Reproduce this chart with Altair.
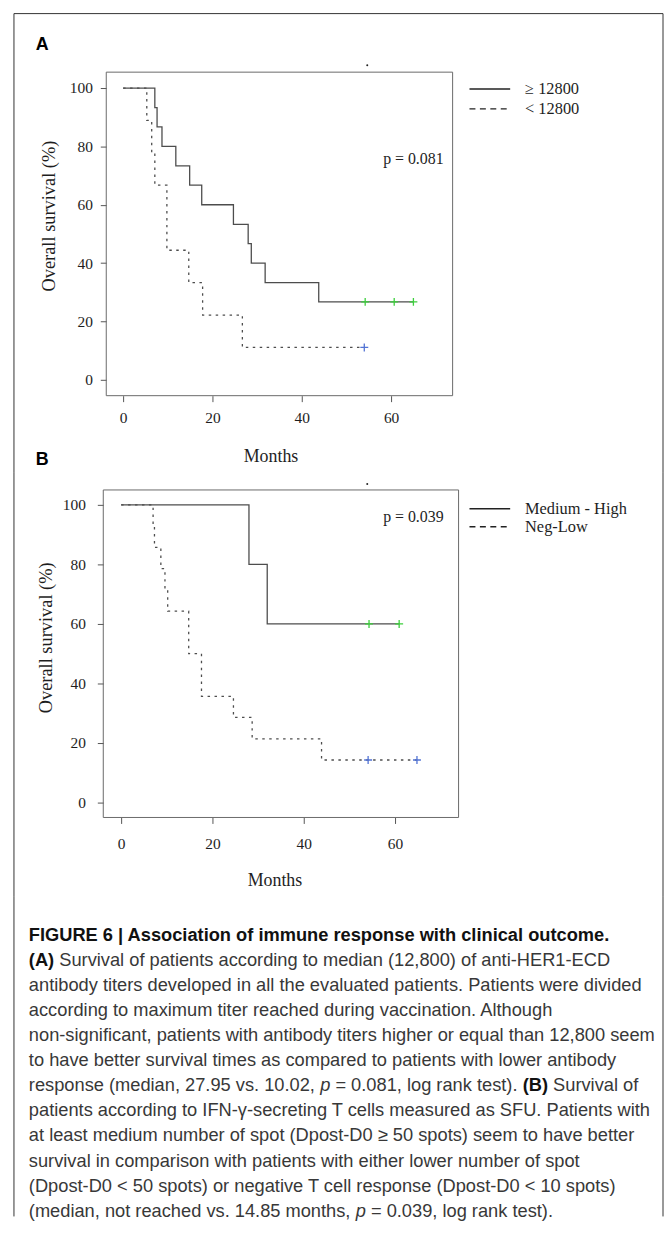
import altair as alt
import pandas as pd

SERIF = "Liberation Serif"
SANS = "Liberation Sans"
INK = "#1e1e1e"
CURVE = "#4d4d4d"
FRAME = "#6a6a6a"
BORDER = "#333333"
GREEN = "#3ccf3c"
BLUE = "#5273d4"

# ---------------- data: panel A (antibody titers) ----------------
a_hi_t = [0, 7.1, 7.6, 8.7, 11.8, 14.9, 17.6, 24.7, 28.0, 28.7, 31.8, 43.8, 65.0]
a_hi_s = [100, 93.3, 86.7, 80.0, 73.3, 66.7, 60.0, 53.3, 46.7, 40.0, 33.3, 26.7, 26.7]
a_hi_ct = [54.2, 60.7, 65.0]
a_hi_cs = [26.7, 26.7, 26.7]
a_lo_t = [0, 5.3, 6.4, 7.1, 9.8, 14.7, 17.8, 26.7, 54.0]
a_lo_s = [100, 88.9, 77.8, 66.7, 44.4, 33.3, 22.2, 11.1, 11.1]
a_lo_ct = [54.0]
a_lo_cs = [11.1]

# ---------------- data: panel B (IFN-gamma T cells) ----------------
b_hi_t = [0, 28.0, 32.0, 61.0]
b_hi_s = [100, 80.0, 60.0, 60.0]
b_hi_ct = [54.3, 60.9]
b_hi_cs = [60.0, 60.0]
b_lo_t = [0, 7.0, 7.3, 8.7, 9.6, 10.2, 14.8, 17.6, 24.6, 28.7, 43.9, 64.8]
b_lo_s = [100, 92.9, 85.7, 78.6, 71.4, 64.3, 50.0, 35.7, 28.6, 21.4, 14.3, 14.3]
b_lo_ct = [54.1, 64.8]
b_lo_cs = [14.3, 14.3]

x_ticks = [0, 20, 40, 60]
y_ticks = [0, 20, 40, 60, 80, 100]

legend_a = ["\u2265 12800", "< 12800"]
legend_b = ["Medium - High", "Neg-Low"]
p_a = "p = 0.081"
p_b = "p = 0.039"

caption_runs = [
    [("FIGURE 6 | Association of immune response with clinical outcome.", "b")],
    [("(A)", "b"), (" Survival of patients according to median (12,800) of anti-HER1-ECD", "n")],
    [("antibody titers developed in all the evaluated patients. Patients were divided", "n")],
    [("according to maximum titer reached during vaccination. Although", "n")],
    [("non-significant, patients with antibody titers higher or equal than 12,800 seem", "n")],
    [("to have better survival times as compared to patients with lower antibody", "n")],
    [("response (median, 27.95 vs. 10.02, ", "n"), ("p", "i"), (" = 0.081, log rank test). ", "n"),
     ("(B)", "b"), (" Survival of", "n")],
    [("patients according to IFN-\u03b3-secreting T cells measured as SFU. Patients with", "n")],
    [("at least medium number of spot (Dpost-D0 \u2265 50 spots) seem to have better", "n")],
    [("survival in comparison with patients with either lower number of spot", "n")],
    [("(Dpost-D0 < 50 spots) or negative T cell response (Dpost-D0 < 10 spots)", "n")],
    [("(median, not reached vs. 14.85 months, ", "n"), ("p", "i"), (" = 0.039, log rank test).", "n")],
]

# ---------------- page layout (pixels on the page) ----------------
PAGE_L, PAGE_R = 13, 667          # outer border
W = PAGE_R - PAGE_L
BLOCK_A = (8, 470)
BLOCK_B = (470, 898)
BLOCK_C = (898, 1220)

ONE = pd.DataFrame({"k": [0]})


def vtext(text, x, y, size, font=SERIF, weight="normal", align="left", angle=0, color=INK):
    kw = dict(font=font, fontSize=size, fontWeight=weight, align=align, baseline="middle", color=color)
    if angle:
        kw["angle"] = angle
    return alt.Chart(pd.DataFrame({"t": [text]})).mark_text(**kw).encode(
        text="t:N", x=alt.value(x), y=alt.value(y))


def hrule(x, x2, y, color, width=1.0, dash=None):
    kw = dict(color=color, strokeWidth=width)
    if dash:
        kw["strokeDash"] = dash
    return alt.Chart(ONE).mark_rule(**kw).encode(x=alt.value(x), x2=alt.value(x2), y=alt.value(y))


def vrule(x, y, y2, color, width=1.0):
    return alt.Chart(ONE).mark_rule(color=color, strokeWidth=width).encode(
        x=alt.value(x), y=alt.value(y), y2=alt.value(y2))


def km_block(block, frame, x0_px, px_per_month, y0_px, px_per_pct, hi, lo, hi_c, lo_c,
             legend, ptext, ylab_pad, xlab_pad, deco):
    """frame = (left, top, right, bottom) on the page; x0_px = page x of month 0,
    y0_px = page y of 0 %."""
    top, bot = block
    H = bot - top
    ox, oy = PAGE_L, top
    fl, ft, fr, fb = frame
    xdom = [(PAGE_L - x0_px) / px_per_month, (PAGE_R - x0_px) / px_per_month]
    ydom = [(y0_px - bot) / px_per_pct, (y0_px - top) / px_per_pct]
    xs = alt.Scale(domain=xdom, nice=False, zero=False)
    ys = alt.Scale(domain=ydom, nice=False, zero=False)
    xax = alt.Axis(values=x_ticks, title=None, grid=False, domain=False, tickSize=6,
                   tickColor="#555", labelFont=SERIF, labelFontSize=15.5, labelColor=INK,
                   labelPadding=xlab_pad, offset=-(bot - fb))
    yax = alt.Axis(values=y_ticks, title=None, grid=False, domain=False, tickSize=6,
                   tickColor="#555", labelFont=SERIF, labelFontSize=15.5, labelColor=INK,
                   labelPadding=ylab_pad, offset=-(fl - PAGE_L))
    df_hi = pd.DataFrame({"t": hi[0], "s": hi[1]})
    df_lo = pd.DataFrame({"t": lo[0], "s": lo[1]})
    frame_rect = alt.Chart(ONE).mark_rect(fillOpacity=0, stroke=FRAME, strokeWidth=1).encode(
        x=alt.value(fl - ox), x2=alt.value(fr - ox), y=alt.value(ft - oy), y2=alt.value(fb - oy))
    solid = alt.Chart(df_hi).mark_line(interpolate="step-after", color=CURVE, strokeWidth=1.3).encode(
        x=alt.X("t:Q", scale=xs, axis=xax), y=alt.Y("s:Q", scale=ys, axis=yax))
    dashed = alt.Chart(df_lo).mark_line(interpolate="step-after", color=CURVE, strokeWidth=1.3,
                                        strokeDash=[2.5, 4.5]).encode(
        x=alt.X("t:Q", scale=xs), y=alt.Y("s:Q", scale=ys))
    cross = "M-1,0L1,0M0,-1L0,1"
    c_hi = alt.Chart(pd.DataFrame({"t": hi_c[0], "s": hi_c[1]})).mark_point(
        shape=cross, filled=False, size=64, strokeWidth=1.3, color=GREEN, opacity=1).encode(
        x=alt.X("t:Q", scale=xs), y=alt.Y("s:Q", scale=ys))
    c_lo = alt.Chart(pd.DataFrame({"t": lo_c[0], "s": lo_c[1]})).mark_point(
        shape=cross, filled=False, size=64, strokeWidth=1.3, color=BLUE, opacity=1).encode(
        x=alt.X("t:Q", scale=xs), y=alt.Y("s:Q", scale=ys))

    layers = [solid, frame_rect, dashed, c_hi, c_lo,
              vrule(0, 0, H, BORDER), vrule(W, 0, H, BORDER)]
    ly1, ly2 = legend[2], legend[3]
    layers += [
        hrule(472 - ox, 513 - ox, ly1 - oy, "#222", 1.6),
        hrule(472 - ox, 513 - ox, ly2 - oy, "#222", 1.4, [6, 4.5]),
        vtext(legend[0], 528 - ox, ly1 - oy, 16.5),
        vtext(legend[1], 528 - ox, ly2 - oy, 16.5),
        vtext(ptext[0], ptext[1] - ox, ptext[2] - oy, 16),
        vtext("Overall survival (%)", deco["ytitle_x"] - ox, deco["ytitle_y"] - oy, 18.5,
              align="center", angle=270),
        vtext("Months", deco["months_x"] - ox, deco["months_y"] - oy, 18, align="center"),
        alt.Chart(ONE).mark_circle(size=4, color="#222", opacity=1).encode(
            x=alt.value(deco["dot"][0] - ox), y=alt.value(deco["dot"][1] - oy)),
    ]
    for lab, lx, lyy in deco.get("labels", []):
        layers.append(vtext(lab, lx - ox, lyy - oy, 18, font=SANS, weight="bold", color="#000"))
    if deco.get("top_border"):
        layers.append(hrule(0, W, 0, BORDER))
    return alt.layer(*layers).properties(width=W, height=H)


panel_a = km_block(
    BLOCK_A, (106, 67, 455, 393), 123, 4.5, 377, 2.94,
    (a_hi_t, a_hi_s), (a_lo_t, a_lo_s), (a_hi_ct, a_hi_cs), (a_lo_ct, a_lo_cs),
    (legend_a[0], legend_a[1], 84, 104), (p_a, 385, 155), 8, 9,
    dict(ytitle_x=48, ytitle_y=212, months_x=272, months_y=455, dot=(369, 60), top_border=True,
         labels=[("A", 35, 40), ("B", 35, 458)]))

panel_b = km_block(
    BLOCK_B, (103, 488, 461, 818), 121, 4.6, 803, 3.0,
    (b_hi_t, b_hi_s), (b_lo_t, b_lo_s), (b_hi_ct, b_hi_cs), (b_lo_ct, b_lo_cs),
    (legend_b[0], legend_b[1], 507, 525), (p_b, 385, 515), 12, 13,
    dict(ytitle_x=45, ytitle_y=637, months_x=276, months_y=882, dot=(369, 482)))

# ---------------- caption ----------------
CAP_FS = 18.4
CAP_X = 28
CAP_Y0, CAP_DY = 936, 25.3

REG = {' ': 278, '!': 278, '"': 355, '%': 889, "'": 191, '(': 333, ')': 333, ',': 278, '-': 333,
       '.': 278, '/': 278, ':': 278, ';': 278, '<': 584, '=': 584, '>': 584, '|': 260,
       '\u03b3': 500, '\u2265': 549}
for d in "0123456789":
    REG[d] = 556
REG.update(dict(A=667, B=667, C=722, D=722, E=667, F=611, G=778, H=722, I=278, J=500, K=667, L=556,
                M=833, N=722, O=778, P=667, Q=778, R=722, S=667, T=611, U=722, V=667, W=944, X=667,
                Y=667, Z=611))
REG.update(dict(a=556, b=556, c=500, d=556, e=556, f=278, g=556, h=556, i=222, j=222, k=500, l=222,
                m=833, n=556, o=556, p=556, q=556, r=333, s=500, t=278, u=556, v=500, w=722, x=500,
                y=500, z=500))
BOLD = {' ': 278, '(': 333, ')': 333, 'A': 722, 'B': 722}


def twidth(s, tbl):
    return sum(tbl.get(c, 556) for c in s) / 1000.0 * CAP_FS


seg = []
for i, runs in enumerate(caption_runs):
    cx = CAP_X - PAGE_L
    for txt, sty in runs:
        tbl = BOLD if sty == "b" else REG
        lead = len(txt) - len(txt.lstrip(" "))
        trail = len(txt) - len(txt.rstrip(" "))
        core = txt.strip(" ")
        cx += lead * tbl[" "] / 1000.0 * CAP_FS
        seg.append({"x": cx, "y": CAP_Y0 + i * CAP_DY - BLOCK_C[0], "t": core, "s": sty})
        cx += twidth(core, tbl) + trail * tbl[" "] / 1000.0 * CAP_FS
seg_df = pd.DataFrame(seg)


def cap_layer(style, weight, fstyle, color):
    return alt.Chart(seg_df).transform_filter(alt.datum.s == style).mark_text(
        font=SANS, fontSize=CAP_FS, fontWeight=weight, fontStyle=fstyle, align="left",
        baseline="middle", color=color).encode(
        text="t:N",
        x=alt.X("x:Q", scale=None, axis=None),
        y=alt.Y("y:Q", scale=None, axis=None))


HC = BLOCK_C[1] - BLOCK_C[0]
caption = alt.layer(
    cap_layer("n", "normal", "normal", "#383838"),
    cap_layer("i", "normal", "italic", "#383838"),
    cap_layer("b", "bold", "normal", "#111111"),
    vrule(0, 0, HC, BORDER),
    vrule(W, 0, HC, BORDER),
).properties(width=W, height=HC)

chart = alt.vconcat(panel_a, panel_b, caption, spacing=0, bounds="flush").resolve_scale(
    x="independent", y="independent").properties(
    padding={"left": PAGE_L - 8, "top": 0, "right": 0, "bottom": 0}
).configure_view(stroke="transparent")

chart.save("out.html", embed_options={"renderer": "svg", "actions": False})
